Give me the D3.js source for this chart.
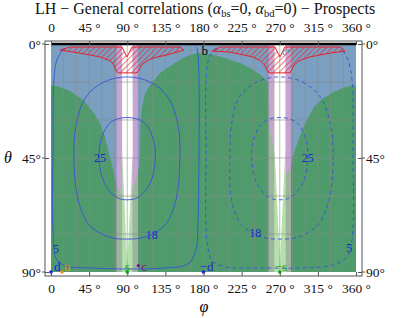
<!DOCTYPE html>
<html>
<head>
<meta charset="utf-8">
<script src="https://cdn.jsdelivr.net/npm/d3@7"></script>
<style>
body { margin: 0; background: #fff; }
svg text { font-family: "Liberation Serif", "Times New Roman", "DejaVu Serif", serif; }
</style>
</head>
<body>
<svg id="chart" width="407" height="318"></svg>
<script>
// tick labels
var phiTicks = [0, 45, 90, 135, 180, 225, 270, 315, 360];
var thetaTicks = [0, 45, 90];
var gridPhi = [15, 30, 45, 60, 75, 90, 105, 120, 135, 150, 165, 180, 195, 210, 225, 240, 255, 270, 285, 300, 315, 330, 345];
var gridTheta = [15, 30, 45, 60, 75];

// allowed (green) regions, [phi, theta]
var greenLeft = [[0,16.2],[10.6,17],[22.4,18.6],[37.8,22],[49.6,26.8],[57.8,31.2],[63.7,36.7],[67.3,41.8],[72,47.8],[75.5,52.9],[78,56.4],[84,60],[90,64],[90,90],[0,90]];
var greenCenter = [[90,90],[90,64],[96,58],[102.5,51],[104,47.8],[105,41.8],[106,30],[108,24],[111,19.5],[117,16.2],[128.6,11.4],[142.8,8.3],[158,5.1],[172,3.6],[187.7,3.9],[205.4,5.5],[223,7.5],[237,9.9],[249,12.6],[257,15.4],[258,32],[263.5,44],[270,50],[270,90]];
var greenRight = [[360,16.2],[347,17],[333,19],[320,21.7],[310.4,24.9],[302,30],[294,35.9],[288,41.8],[284.5,45.8],[283,48.5],[277,52],[270,55],[270,90],[360,90]];

// vertical bands round phi = 90 and 270
var bandOuter = [[77.5, 102.5], [257, 283]];
var bandInner = [[84, 96], [263.5, 277]];
var whiteWedge90 = [[84,0],[96,0],[96.5,42],[90,87],[84,42]];
var whiteWedge270 = [[264,0],[276.5,0],[276.5,42],[270.3,86],[264,42]];

// excluded (hatched) regions near theta = 0
var wingLeft = [[10.6,2.4],[22.4,1.2],[83.8,1.2],[89.7,5.1],[95.6,1.2],[152.3,1.2],[157,2.4],[137,4.3],[120,5.6],[113.3,6.6],[107,8.3],[103.5,10.3],[101.5,11.4],[79,11.4],[76.7,10.3],[73.5,8],[70,6.6],[57.8,5.1],[34.2,3.6]];
var wingRight = [[190,2.8],[199.5,1.2],[264.4,1.2],[270.3,5.1],[276,1.2],[341,1.2],[347,2.8],[329.3,3.6],[305.7,5.1],[293,6.6],[287,8.3],[284.5,9.8],[282,11.4],[257.3,11.4],[255,10.3],[252,8.3],[247,6.6],[238.4,5.1],[211.3,3.2]];

// contours, solid (left half) and dashed (right half)
var c25solid = [[90,29],[110,31],[121,38],[123,46],[117,55],[103,60.5],[90,61.5],[77,60.5],[63,55],[57,46],[59,38],[70,31]];
var c18solid = [[90,13],[117,15],[138,21],[150,32],[152,46],[147.5,61.6],[134.6,71.4],[111,76.2],[90,77],[68.5,76.2],[45,71.4],[32,61.6],[27,45.8],[29.5,32],[41,21],[62.6,15]];
var c5solid = [[15.3,1.6],[7,6.3],[3.5,14],[2.4,41.8],[2.4,73.4],[6,84.5],[16.5,87.6],[46,88.4],[90,88.8],[134.5,88.4],[161.7,86.8],[171,81.3],[173.5,69.5],[174.7,41.8],[174.7,14],[173.5,4.3],[172,1.2]];
var c25dash = [[270,29],[290,31],[301,38],[303,46],[297,55],[283,60.5],[270,61.5],[257,60.5],[243,55],[237,46],[239,38],[250,31]];
var c18dash = [[270,13],[297,15],[318,21],[330,32],[333,46],[328,61.6],[315,71.4],[292,76.2],[270,77],[249,76.2],[225,71.4],[213,61.6],[211,46],[213,32],[222,21],[243,15]];
var c5dash = [[194.8,1.6],[186.5,5.5],[183,14.2],[183,41.8],[184,77.4],[190,85.3],[205.4,88],[246.7,88.4],[294,88.4],[333,87.2],[349.4,84],[355.3,77.4],[356.4,41.8],[355.3,14.2],[350.6,6.3],[343.5,2]];

var contourLabels = [["25", 57.8, 45], ["18", 119, 75.3], ["5", 6, 81], ["25", 303, 45], ["18", 241, 74.6], ["5", 352, 80.5]];

// quark markers along theta = 90
var markNames = ["d", "u", "s", "c", "\u2212d", "\u2212s"];
var markPhi = [0, 13, 90, 103, 180, 270];
var markColors = ["#1a1ae6", "#f08c1e", "#14a014", "#7a1a7a", "#1a1ae6", "#14a014"];

var serif = "'Liberation Serif', 'Times New Roman', 'DejaVu Serif', serif";
var x = d3.scaleLinear().domain([0, 360]).range([51, 356]);
var y = d3.scaleLinear().domain([0, 90]).range([44, 272]);
var frame = {l: 45, r: 362, t: 41, b: 276};

var blue = "#7b9fc1", green = "#4f9b6c";
var svg = d3.select("#chart");
var defs = svg.append("defs");

var hatch = defs.append("pattern")
	.attr("id", "hatch")
	.attr("patternUnits", "userSpaceOnUse")
	.attr("width", 4).attr("height", 4)
	.attr("patternTransform", "rotate(45)");
hatch.append("line")
	.attr("x1", 0).attr("y1", 0).attr("x2", 0).attr("y2", 4)
	.attr("stroke", "#e8202a").attr("stroke-width", 1.2);

var line = d3.line().x(function(d){ return x(d[0]); }).y(function(d){ return y(d[1]); });
var smooth = d3.line().x(function(d){ return x(d[0]); }).y(function(d){ return y(d[1]); }).curve(d3.curveCatmullRom);
var smoothClosed = d3.line().x(function(d){ return x(d[0]); }).y(function(d){ return y(d[1]); }).curve(d3.curveCatmullRomClosed);

// clip for green regions (bands change colour over them)
var greens = [greenLeft, greenCenter, greenRight];
var gclip = defs.append("clipPath").attr("id", "greenclip");
greens.forEach(function(g){ gclip.append("path").attr("d", line(g) + "Z"); });

var plot = svg.append("g");
plot.append("rect")
	.attr("x", x(0)).attr("y", y(0))
	.attr("width", x(360) - x(0)).attr("height", y(90) - y(0))
	.attr("fill", blue);

greens.forEach(function(g){
	plot.append("path").attr("d", line(g) + "Z").attr("fill", green);
});

// bands
bandOuter.forEach(function(b){
	plot.append("rect").attr("x", x(b[0])).attr("y", y(0))
		.attr("width", x(b[1]) - x(b[0])).attr("height", y(90) - y(0))
		.attr("fill", "#c9a3d3");
	plot.append("rect").attr("x", x(b[0])).attr("y", y(0))
		.attr("width", x(b[1]) - x(b[0])).attr("height", y(90) - y(0))
		.attr("fill", "#9db59f").attr("clip-path", "url(#greenclip)");
});
bandInner.forEach(function(b){
	plot.append("rect").attr("x", x(b[0])).attr("y", y(0))
		.attr("width", x(b[1]) - x(b[0])).attr("height", y(90) - y(0))
		.attr("fill", "#b4e0aa");
});
[whiteWedge90, whiteWedge270].forEach(function(w){
	plot.append("path").attr("d", line(w) + "Z").attr("fill", "#fff");
});

// grid
var grid = plot.append("g").attr("stroke", "#888").attr("stroke-opacity", 0.7).attr("stroke-width", 0.8);
grid.selectAll(".gx").data(gridPhi).enter().append("line")
	.attr("x1", function(d){ return x(d); }).attr("x2", function(d){ return x(d); })
	.attr("y1", y(0)).attr("y2", y(90));
grid.selectAll(".gy").data(gridTheta).enter().append("line")
	.attr("y1", function(d){ return y(d); }).attr("y2", function(d){ return y(d); })
	.attr("x1", x(0)).attr("x2", x(360));

// hatched exclusion wings
[wingLeft, wingRight].forEach(function(w){
	plot.append("path").attr("d", line(w) + "Z")
		.attr("fill", "url(#hatch)")
		.attr("stroke", "#e8202a").attr("stroke-width", 1);
});

// contours
var cBlue = "#3553d6";
[c25solid, c18solid].forEach(function(c){
	plot.append("path").attr("d", smoothClosed(c)).attr("fill", "none")
		.attr("stroke", cBlue).attr("stroke-width", 0.9);
});
plot.append("path").attr("d", smooth(c5solid)).attr("fill", "none")
	.attr("stroke", cBlue).attr("stroke-width", 0.9);
[c25dash, c18dash].forEach(function(c){
	plot.append("path").attr("d", smoothClosed(c)).attr("fill", "none")
		.attr("stroke", cBlue).attr("stroke-width", 0.9).attr("stroke-dasharray", "4,3");
});
plot.append("path").attr("d", smooth(c5dash)).attr("fill", "none")
	.attr("stroke", cBlue).attr("stroke-width", 0.9).attr("stroke-dasharray", "4,3");

plot.selectAll(".clab").data(contourLabels).enter().append("text")
	.attr("x", function(d){ return x(d[1]); })
	.attr("y", function(d){ return y(d[2]); })
	.attr("dy", "0.35em")
	.attr("text-anchor", "middle")
	.attr("font-size", 12)
	.attr("font-family", serif)
	.attr("fill", "#1a2ad0")
	.text(function(d){ return d[0]; });

// theta = 0 line
plot.append("line").attr("x1", x(0)).attr("x2", x(360)).attr("y1", y(0)).attr("y2", y(0))
	.attr("stroke", "#000").attr("stroke-width", 2.4);

// point labels
plot.append("text").attr("x", x(181.5)).attr("y", y(4.3)).attr("text-anchor", "middle")
	.attr("font-family", serif).attr("font-size", 13).text("b");
plot.append("text").attr("x", x(275.5)).attr("y", y(4.3)).attr("text-anchor", "middle")
	.attr("font-family", serif).attr("font-size", 11).attr("font-style", "italic").attr("fill", "#1aa0a0").text("c");
plot.append("circle").attr("cx", x(281)).attr("cy", y(2.8)).attr("r", 1.2).attr("fill", "#1aa0a0");

var markDx = [3, 2, 0, 3, 3, 1];
var markAnchor = ["start", "start", "middle", "start", "middle", "middle"];
markNames.forEach(function(n, i){
	if (n === "c") {
		plot.append("circle").attr("cx", x(markPhi[i])).attr("cy", y(87.5)).attr("r", 1.6).attr("fill", markColors[i]);
	} else {
		plot.append("circle").attr("cx", x(markPhi[i])).attr("cy", y(90)).attr("r", 1.8).attr("fill", markColors[i]);
	}
	plot.append("text").attr("x", x(markPhi[i]) + markDx[i]).attr("y", y(90) - 1)
		.attr("text-anchor", markAnchor[i]).attr("font-size", 13).attr("font-family", serif)
		.attr("fill", markColors[i]).text(n);
});

// frame and axes
svg.append("rect").attr("x", frame.l).attr("y", frame.t)
	.attr("width", frame.r - frame.l).attr("height", frame.b - frame.t)
	.attr("fill", "none").attr("stroke", "#555").attr("stroke-width", 1);

function phiFmt(d){ return d === 0 ? "0" : d + " \u00b0"; }
function thetaFmt(d){ return d + "\u00b0"; }

var axTop = svg.append("g").attr("transform", "translate(0," + frame.t + ")")
	.call(d3.axisTop(x).tickValues(phiTicks).tickFormat(phiFmt).tickSizeInner(-4).tickSizeOuter(0).tickPadding(9));
var axBot = svg.append("g").attr("transform", "translate(0," + frame.b + ")")
	.call(d3.axisBottom(x).tickValues(phiTicks).tickFormat(phiFmt).tickSizeInner(-4).tickSizeOuter(0).tickPadding(7));
var axL = svg.append("g").attr("transform", "translate(" + frame.l + ",0)")
	.call(d3.axisLeft(y).tickValues(thetaTicks).tickFormat(thetaFmt).tickSizeInner(-4).tickSizeOuter(0).tickPadding(4));
var axR = svg.append("g").attr("transform", "translate(" + frame.r + ",0)")
	.call(d3.axisRight(y).tickValues(thetaTicks).tickFormat(thetaFmt).tickSizeInner(-4).tickSizeOuter(0).tickPadding(4));
[axTop, axBot, axL, axR].forEach(function(a){
	a.attr("font-family", serif).attr("font-size", 13.5);
	a.select(".domain").remove();
	a.selectAll("line").attr("stroke", "#555");
	a.selectAll("text").attr("fill", "#111");
});
// small outer ticks on the theta axes
thetaTicks.forEach(function(t){
	svg.append("line").attr("x1", frame.l - 3).attr("x2", frame.l).attr("y1", y(t)).attr("y2", y(t)).attr("stroke", "#555");
	svg.append("line").attr("x1", frame.r).attr("x2", frame.r + 3).attr("y1", y(t)).attr("y2", y(t)).attr("stroke", "#555");
});

// title
var title = svg.append("text").attr("x", 205).attr("y", 14).attr("text-anchor", "middle")
	.attr("font-family", serif).attr("font-size", 16).attr("fill", "#111");
title.append("tspan").text("LH \u2212 General correlations (");
title.append("tspan").attr("font-style", "italic").text("\u03b1");
title.append("tspan").attr("font-size", 10.5).attr("dy", 2.5).text("bs");
title.append("tspan").attr("dy", -2.5).text("=0, ");
title.append("tspan").attr("font-style", "italic").text("\u03b1");
title.append("tspan").attr("font-size", 10.5).attr("dy", 2.5).text("bd");
title.append("tspan").attr("dy", -2.5).text("=0) \u2212 Prospects");

// axis labels
svg.append("text").attr("x", 8).attr("y", 163).attr("text-anchor", "middle")
	.attr("font-family", serif).attr("font-size", 16).attr("font-style", "italic").text("\u03b8");
svg.append("text").attr("x", 204).attr("y", 312).attr("text-anchor", "middle")
	.attr("font-family", serif).attr("font-size", 16).attr("font-style", "italic").text("\u03c6");
</script>
</body>
</html>
